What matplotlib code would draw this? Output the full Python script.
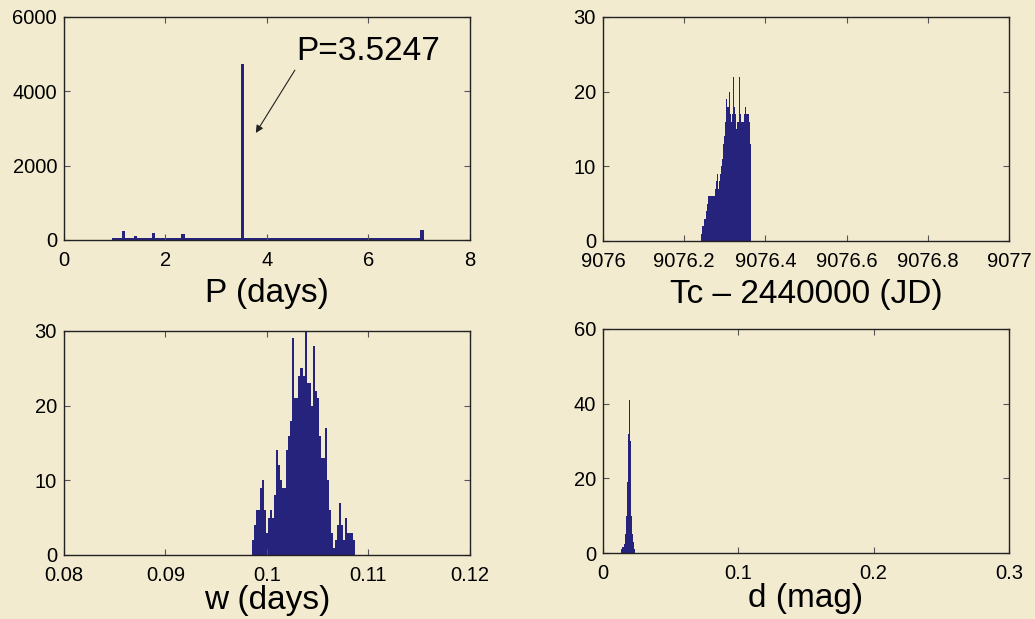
import numpy as np
import matplotlib
matplotlib.use("Agg")
import matplotlib.pyplot as plt

plt.rcParams['font.family'] = ['Liberation Sans', 'DejaVu Sans']

# P histogram: a few spikes on top of a low floor
p_spike_x = [1.00, 1.17, 1.41, 1.76, 2.35, 3.52, 7.05]
p_spike_n = [60, 250, 120, 180, 150, 4730, 280]
p_floor_range = (0.95, 7.10)
p_floor_n = 45

# Tc histogram (bin start, bin width, counts)
tc_start = 9076.2425
tc_width = 0.0025
tc_counts = [1, 2, 2, 3, 4, 5, 6, 6, 6, 6, 6, 6, 6, 7, 8, 9, 7, 8, 9, 10,
             11, 13, 14, 16, 19, 18, 18, 20, 17, 16, 17, 22, 18, 17, 15, 16,
             16, 22, 17, 16, 16, 16, 17, 18, 17, 17, 17, 16, 13]

# w histogram
w_start = 0.0985
w_width = 0.0002
w_counts = [2, 4, 6, 6, 9, 10, 6, 3, 5, 6, 5, 8, 14, 12, 10, 9, 9, 14, 16, 18,
            29, 21, 21, 24, 25, 24, 30, 23, 23, 20, 28, 22, 21, 16, 13, 13, 17,
            10, 6, 3, 1, 2, 4, 7, 4, 2, 5, 3, 3, 3, 2]

# d histogram
d_start = 0.0136
d_width = 0.0008
d_counts = [1, 1.5, 2.5, 5, 10, 19, 32, 41, 30, 10, 5, 3, 1]

bg = '#f2ebd0'
bar_c = '#26237c'

fig = plt.figure(figsize=(10.35, 6.19), dpi=100, facecolor=bg)

def style(ax, xlim, ylim, xticks, yticks, xlabels, xlabel, lpad):
    ax.set_facecolor(bg)
    ax.set_xlim(*xlim)
    ax.set_ylim(*ylim)
    ax.set_xticks(xticks)
    ax.set_xticklabels(xlabels)
    ax.set_yticks(yticks)
    ax.tick_params(direction='in', length=4, width=0.8, top=True, right=True,
                   labelsize=14.5, color='#555555')
    ax.tick_params(axis='x', pad=8)
    ax.tick_params(axis='y', pad=5)
    for s in ax.spines.values():
        s.set_linewidth(1.0)
        s.set_color('#222222')
    ax.set_xlabel(xlabel, fontsize=24, labelpad=lpad)

# panel 1
ax1 = fig.add_axes([0.0618, 0.6123, 0.3923, 0.3603])
ax1.bar(p_floor_range[0], p_floor_n, width=p_floor_range[1] - p_floor_range[0],
        align='edge', color=bar_c, linewidth=0)
ax1.bar(p_spike_x, p_spike_n, width=0.07, color=bar_c, linewidth=0)
style(ax1, (0, 8), (0, 6000), [0, 2, 4, 6, 8], [0, 2000, 4000, 6000],
      ['0', '2', '4', '6', '8'], 'P (days)', 6)
ax1.text(4.57, 5080, 'P=3.5247', fontsize=24, va='center', ha='left')
ax1.annotate('', xy=(3.78, 2880), xytext=(4.55, 4570),
             arrowprops=dict(arrowstyle='-|>', color='#222222', lw=0.8,
                             shrinkA=0, shrinkB=0, mutation_scale=11))

# panel 2
ax2 = fig.add_axes([0.5826, 0.6107, 0.3923, 0.3619])
tc_edges = tc_start + tc_width * np.arange(len(tc_counts))
ax2.bar(tc_edges, tc_counts, width=tc_width, align='edge', color=bar_c, linewidth=0)
tc_ticks = [9076, 9076.2, 9076.4, 9076.6, 9076.8, 9077]
style(ax2, (9076, 9077), (0, 30), tc_ticks, [0, 10, 20, 30],
      ['9076', '9076.2', '9076.4', '9076.6', '9076.8', '9077'],
      'Tc \u2013 2440000 (JD)', 6)

# panel 3
ax3 = fig.add_axes([0.0618, 0.1034, 0.3923, 0.3619])
w_edges = w_start + w_width * np.arange(len(w_counts))
ax3.bar(w_edges, w_counts, width=w_width, align='edge', color=bar_c, linewidth=0)
style(ax3, (0.08, 0.12), (0, 30), [0.08, 0.09, 0.1, 0.11, 0.12], [0, 10, 20, 30],
      ['0.08', '0.09', '0.1', '0.11', '0.12'], 'w (days)', 0)

# panel 4
ax4 = fig.add_axes([0.5826, 0.1066, 0.3923, 0.3619])
d_edges = d_start + d_width * np.arange(len(d_counts))
ax4.bar(d_edges, d_counts, width=d_width, align='edge', color=bar_c, linewidth=0)
style(ax4, (0, 0.3), (0, 60), [0, 0.1, 0.2, 0.3], [0, 20, 40, 60],
      ['0', '0.1', '0.2', '0.3'], 'd (mag)', 0)

fig.savefig('out.png', dpi=100, facecolor=bg)
